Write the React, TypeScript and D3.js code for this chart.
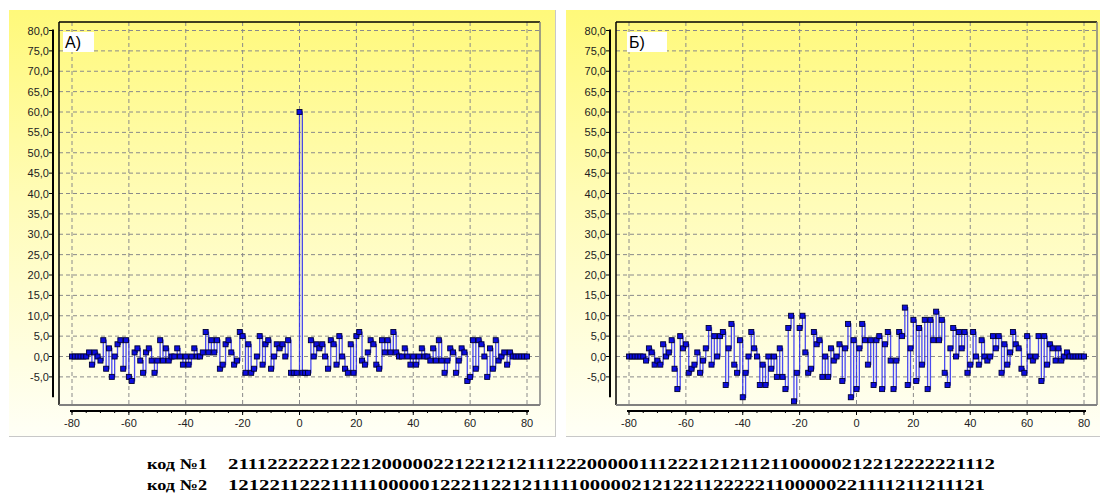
import React from "react";
import * as d3 from "d3";

// lag axis, one point per integer shift
const LAGS: number[] = d3.range(-80, 81);

// А) autocorrelation of code №1
const AUTO_A: number[] = [
  0, 0, 0, 0, 0, 0,
  1, -2, 1, 0, -1, 4, -3, 2, -5, 0,
  3, 4, -3, 4, -5, -6, 1, 2, -1, -4,
  1, 2, -1, -4, -1, 4, -1, 2, -1, 0,
  0, 2, 0, -2, 0, -2, 0, 2, 0, 0,
  1, 6, 1, 4, 1, 4, -3, -2, 3, 4,
  1, -2, -1, 6, 5, -4, 3, -4, -3, 0,
  5, -2, 3, 4, -3, 0, 3, 2, 3, 0,
  4, -4, -4, -4,
  60,
  -4, -4, -4, 4,
  0, 3, 2, 3, 0, -3, 4, 3, -2, 5,
  0, -3, -4, 3, -4, 5, 6, -1, -2, 1,
  4, 3, -2, -3, 4, 1, 4, 1, 6, 1,
  0, 0, 2, 0, -2, 0, -2, 0, 2, 0,
  0, -1, 2, -1, 4, -1, -4, -1, 2, 1,
  -4, -1, 2, 1, -6, -5, 4, -3, 4, 3,
  0, -5, 2, -3, 4, -1, 0, 1, -2, 1,
  0, 0, 0, 0, 0, 0,
];

// Б) cross-correlation of code №1 and code №2
const CROSS_B: number[] = [
  0, 0, 0, 0, 0, 0,
  -1, 2, 1, -2, -1, -2, 3, 0, 1, 4,
  -3, -8, 5, 2, 3, -4, -3, -2, 1, -4,
  -1, 2, 7, -2, 5, 0, 5, 6, -7, 2,
  8, -2, -4, 4, -10, -4, 0, 6, 2, 0,
  -7, -2, -7, 0, -3, 0, -5, 2, -5, -8,
  7, 10, -11, -4, 7, 10, 1, -4, -3, 6,
  3, 4, -5, 0, -5, 2, -1, 0, 3, -6,
  2, 8, -10, 4,
  -8,
  2, 8, 4, -2,
  4, -7, 4, 5, -8, 3, 6, -1, -8, -1,
  6, 5, 12, -7, 2, 9, -6, 7, -2, 9,
  -8, 9, 4, 11, 4, 9, -4, -7, 2, 7,
  0, 6, 2, 6, -4, -2, 6, 0, -2, 4,
  0, -1, 0, 5, 2, 5, -4, 3, -2, 1,
  6, 3, 2, -3, -4, 5, 0, -1, 0, 5,
  -6, 5, -2, 3, 2, -1, 2, -1, 0, 1,
  0, 0, 0, 0, 0, 0,
];

const Y_TICKS: number[] = [80, 75, 70, 65, 60, 55, 50, 45, 40, 35, 30, 25, 20, 15, 10, 5, 0, -5];
const X_TICKS: number[] = [-80, -60, -40, -20, 0, 20, 40, 60, 80];
const X_MINOR: number[] = d3.range(-80, 81, 5);

const CODE_LABELS: string[] = ["код №1", "код №2"];
const CODES: string[] = [
  "211122222212212000002212212121112220000011122212121121100000212212222221112",
  "121221122211111000001222112212111110000021212211222221100000221111211211121",
];

const fmtY = (v: number) => v.toFixed(1).replace(".", ",");

type PanelProps = { ox: number; values: number[]; title: string; titleW: number; titleDx: number; gid: string };

function Panel({ ox, values, title, titleW, titleDx, gid }: PanelProps) {
  const x = d3.scaleLinear().domain([-80, 80]).range([ox + 72, ox + 527]);
  const y = d3.scaleLinear().domain([0, 80]).range([356.5, 30.5]);
  const plotL = ox + 59, plotT = 22, plotR = ox + 540, plotB = 405;
  const pts: [number, number][] = LAGS.map((l, i) => [l, values[i]]);
  const line = d3
    .line<[number, number]>()
    .x((d) => x(d[0]))
    .y((d) => y(d[1]))
    .curve(d3.curveStepAfter);
  const font = "'Liberation Sans', Arial, sans-serif";
  return (
    <g>
      <rect x={ox + 9} y={10} width={546} height={426} fill={`url(#${gid})`} />
      <line x1={ox + 555.5} y1={10} x2={ox + 555.5} y2={436} stroke="#c8c8c8" />
      <line x1={ox + 9} y1={436.5} x2={ox + 556} y2={436.5} stroke="#c8c8c8" />
      {/* grid */}
      {Y_TICKS.map((t) => (
        <line key={"gy" + t} x1={plotL} x2={plotR} y1={y(t)} y2={y(t)} stroke="#8a8a8a" strokeDasharray="4,3" />
      ))}
      {X_TICKS.map((t) => (
        <line key={"gx" + t} x1={x(t)} x2={x(t)} y1={plotT} y2={plotB} stroke="#8a8a8a" strokeDasharray="4,3" />
      ))}
      {/* frame */}
      <line x1={plotL} y1={plotT} x2={plotR} y2={plotT} stroke="#000" strokeWidth={1.5} />
      <line x1={plotL} y1={plotT} x2={plotL} y2={plotB} stroke="#000" strokeWidth={1.5} />
      <line x1={plotR} y1={plotT} x2={plotR} y2={plotB} stroke="#808080" strokeWidth={1.5} />
      <line x1={plotL} y1={plotB} x2={plotR} y2={plotB} stroke="#808080" strokeWidth={2} />
      {/* y axis */}
      <line x1={ox + 53} x2={ox + 53} y1={y(80) - 1} y2={y(-10)} stroke="#000" strokeWidth={2} />
      {Y_TICKS.map((t) => (
        <g key={"ty" + t}>
          <line x1={ox + 49} x2={ox + 53} y1={y(t)} y2={y(t)} stroke="#000" />
          <text x={ox + 49} y={y(t) + 4} textAnchor="end" fontFamily={font} fontSize={11} fill="#222">
            {fmtY(t)}
          </text>
        </g>
      ))}
      {/* x axis */}
      <line x1={x(-80) - 2} x2={x(80) + 2} y1={411} y2={411} stroke="#000" strokeWidth={2} />
      {X_MINOR.map((t) => (
        <line key={"mx" + t} x1={x(t)} x2={x(t)} y1={411} y2={413} stroke="#000" />
      ))}
      {X_TICKS.map((t) => (
        <g key={"tx" + t}>
          <line x1={x(t)} x2={x(t)} y1={411} y2={415} stroke="#000" />
          <text x={x(t)} y={427} textAnchor="middle" fontFamily={font} fontSize={11} fill="#222">
            {String(t)}
          </text>
        </g>
      ))}
      {/* series */}
      <path d={line(pts) || ""} fill="none" stroke="#2a2af2" strokeWidth={1.3} strokeOpacity={0.85} />
      {pts.map((d, i) => (
        <rect
          key={"m" + i}
          x={x(d[0]) - 2.5}
          y={y(d[1]) - 2.5}
          width={5}
          height={5}
          fill="#0d0de0"
          stroke="#000033"
          strokeWidth={0.9}
        />
      ))}
      {/* title */}
      <rect x={ox + titleDx} y={32} width={titleW} height={20} fill="#fff" />
      <text x={ox + titleDx + 2} y={48} fontFamily={font} fontSize={16} fill="#000">
        {title}
      </text>
    </g>
  );
}

export default function App() {
  const serif = "'Liberation Serif', 'Times New Roman', serif";
  return (
    <svg
      width={1100}
      height={495}
      viewBox="0 0 1100 495"
      style={{ position: "absolute", left: 0, top: 0, background: "#fff" }}
    >
      <defs>
        {["gA", "gB"].map((id) => (
          <linearGradient key={id} id={id} x1="0" y1="0" x2="0" y2="1">
            <stop offset="0" stopColor="#fff97a" />
            <stop offset="0.45" stopColor="#fffcb8" />
            <stop offset="1" stopColor="#fffff6" />
          </linearGradient>
        ))}
      </defs>
      <rect x={0} y={0} width={1100} height={495} fill="#fff" />
      <Panel ox={0} values={AUTO_A} title="А)" titleW={31} titleDx={63} gid="gA" />
      <Panel ox={557} values={CROSS_B} title="Б)" titleW={40} titleDx={70} gid="gB" />
      {CODES.map((c, i) => (
        <g key={"code" + i}>
          <text
            x={147}
            y={469 + i * 21}
            fontFamily={serif}
            fontWeight="bold"
            fontSize={15}
            textLength={60}
            lengthAdjust="spacingAndGlyphs"
          >
            {CODE_LABELS[i]}
          </text>
          <text
            x={228}
            y={469 + i * 21}
            fontFamily={serif}
            fontWeight="bold"
            fontSize={15}
            textLength={i === 0 ? 767 : 757}
            lengthAdjust="spacingAndGlyphs"
          >
            {c}
          </text>
        </g>
      ))}
    </svg>
  );
}
